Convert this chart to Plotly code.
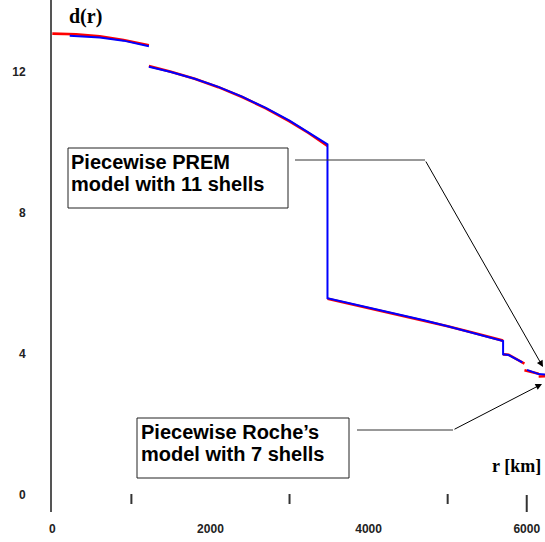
import plotly.graph_objects as go

# ---------------- data ----------------
# PREM model (red): radius [km] and density d(r) [g/cm^3]; None separates shells
prem_r = [0, 300, 600, 900, 1221.5, None,
          1221.5, 1500, 1800, 2100, 2400, 2700, 3000, 3240, 3480, None,
          3480, 3800, 4100, 4400, 4700, 5000, 5300, 5600, 5701, None,
          5701, 5771, 5971, None,
          5971, 6151, None,
          6151, 6346.6]
prem_d = [13.09, 13.07, 13.01, 12.91, 12.76, None,
          12.17, 12.01, 11.81, 11.57, 11.29, 10.97, 10.60, 10.27, 9.90, None,
          5.57, 5.41, 5.26, 5.11, 4.95, 4.79, 4.62, 4.44, 4.38, None,
          3.99, 3.98, 3.73, None,
          3.54, 3.44, None,
          3.36, 3.38]

# Roche's model (blue)
roche_r = [220, 600, 900, 1221.5, None,
           1221.5, 1500, 1800, 2100, 2400, 2700, 3000, 3240, 3480, 3480,
           3800, 4100, 4400, 4700, 5000, 5300, 5600, 5701, 5701, 5771, 5945, None,
           6004, 6151, 6346.6]
roche_d = [13.03, 12.98, 12.89, 12.73, None,
           12.15, 12.00, 11.81, 11.58, 11.30, 10.98, 10.62, 10.29, 9.95, 5.58,
           5.42, 5.27, 5.12, 4.96, 4.79, 4.61, 4.43, 4.37, 3.99, 3.97, 3.76, None,
           3.55, 3.43, 3.40]

x_tickvals = [0, 2000, 4000, 6000]
x_ticktext = ["0", "2000", "4000", "6000"]
x_minor_ticks = [1000, 3000, 5000]
y_tickvals = [0, 4, 8, 12]
y_ticktext = ["0", "4", "8", "12"]

# ---------------- layout helpers (pixel -> paper) ----------------
W, H = 545, 542
L, B, T, R = 52, 30, 0, 0
PW, PH = W - L - R, H - T - B


def px(x):
    return (x - L) / PW


def py(y):
    return (T + PH - y) / PH


fig = go.Figure()
fig.add_trace(go.Scatter(x=prem_r, y=prem_d, mode="lines",
                         line=dict(color="#ff0000", width=2.6),
                         connectgaps=False, showlegend=False, hoverinfo="skip"))
fig.add_trace(go.Scatter(x=roche_r, y=roche_d, mode="lines",
                         line=dict(color="#0000ff", width=2),
                         connectgaps=False, showlegend=False, hoverinfo="skip"))

shapes = []
# tick marks along the r axis
for v in x_minor_ticks:
    shapes.append(dict(type="line", xref="x", yref="paper", x0=v, x1=v,
                       y0=py(504), y1=py(494), line=dict(color="#333", width=2)))
shapes.append(dict(type="line", xref="x", yref="paper", x0=6000, x1=6000,
                   y0=py(512), y1=py(495), line=dict(color="#333", width=2)))
# label boxes
shapes.append(dict(type="rect", xref="paper", yref="paper",
                   x0=px(68), x1=px(288), y0=py(208), y1=py(148),
                   line=dict(color="#222", width=1), fillcolor="rgba(0,0,0,0)"))
shapes.append(dict(type="rect", xref="paper", yref="paper",
                   x0=px(137), x1=px(349), y0=py(478), y1=py(418),
                   line=dict(color="#222", width=1), fillcolor="rgba(0,0,0,0)"))
# leader lines (horizontal parts)
shapes.append(dict(type="line", xref="paper", yref="paper",
                   x0=px(295), x1=px(425), y0=py(160), y1=py(160),
                   line=dict(color="#333", width=1)))
shapes.append(dict(type="line", xref="paper", yref="paper",
                   x0=px(357), x1=px(453), y0=py(430), y1=py(430),
                   line=dict(color="#333", width=1)))

box_font = dict(family="Liberation Sans, Arial", size=20, color="#000", weight=700)
ann = []


def text_line(txt, xl, ycenter, font):
    ann.append(dict(xref="paper", yref="paper", x=px(xl), y=py(ycenter),
                    xanchor="left", yanchor="middle", text=txt,
                    showarrow=False, font=font))


text_line("Piecewise PREM", 69, 161.5, box_font)
text_line("model with 11 shells", 69, 183.5, box_font)
text_line("Piecewise Roche\u2019s", 139, 431.5, box_font)
text_line("model with 7 shells", 139, 453.5, box_font)

# arrows
ann.append(dict(xref="paper", yref="paper", x=px(543), y=py(367), text="",
                showarrow=True, ax=425 - 543, ay=160 - 367, axref="pixel", ayref="pixel",
                arrowhead=2, arrowsize=1.3, arrowwidth=1, arrowcolor="#000", standoff=0))
ann.append(dict(xref="paper", yref="paper", x=px(542), y=py(384), text="",
                showarrow=True, ax=453 - 542, ay=430 - 384, axref="pixel", ayref="pixel",
                arrowhead=2, arrowsize=1.3, arrowwidth=1, arrowcolor="#000", standoff=0))

axis_font = dict(family="Liberation Serif, Times New Roman", size=20, color="#000", weight=700)
ann.append(dict(xref="paper", yref="paper", x=px(67), y=py(16), xanchor="left",
                yanchor="middle", text="d(r)", showarrow=False, font=axis_font))
ann.append(dict(xref="paper", yref="paper", x=px(543), y=py(466), xanchor="right",
                yanchor="middle", text="r [km]", showarrow=False,
                font=dict(family="Liberation Serif, Times New Roman", size=18,
                          color="#000", weight=700)))

tick_font = dict(family="Liberation Sans, Arial", size=12, color="#222", weight=700)

fig.update_layout(
    width=W, height=H,
    margin=dict(l=L, r=R, t=T, b=B, pad=0),
    paper_bgcolor="white", plot_bgcolor="white",
    shapes=shapes, annotations=ann,
    xaxis=dict(range=[-4, 6231], showline=False, showgrid=False, zeroline=False,
               tickvals=x_tickvals, ticktext=x_ticktext, ticks="",
               tickfont=tick_font, ticklabelstandoff=8, fixedrange=True),
    yaxis=dict(range=[-0.482, 14.043], showline=True, linecolor="#555", linewidth=2,
               showgrid=False, zeroline=False, tickvals=y_tickvals, ticktext=y_ticktext,
               ticks="", tickfont=tick_font, ticklabelstandoff=22, fixedrange=True),
)

fig.write_html(
    "out.html",
    config={"displayModeBar": False},
    post_script="document.body.style.margin='0';document.body.style.overflow='hidden';",
)
